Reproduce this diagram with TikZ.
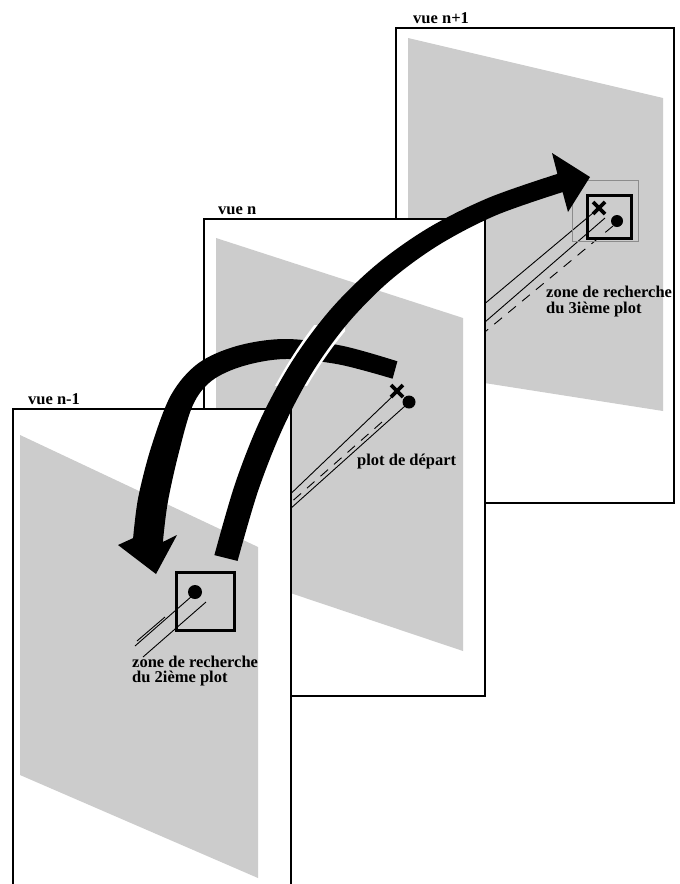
\documentclass[tikz,border=0pt]{standalone}
\usepackage{fontspec}
\setmainfont{Liberation Serif}
\begin{document}
\begin{tikzpicture}[x=1pt,y=-1pt,
  frame/.style={draw=black, line width=1.1pt, fill=white},
  shade/.style={fill=black!20},
  lbl/.style={font=\bfseries\fontsize{16.5}{16}\selectfont, inner sep=0pt, anchor=base west},
  zone/.style={draw=black, line width=3pt},
  faint/.style={draw=black!45, line width=0.6pt},
  trk/.style={draw=black, line width=0.9pt},
  trkd/.style={draw=black, line width=0.9pt, dash pattern=on 10pt off 8pt},
  crossmk/.style={draw=black, line width=3.8pt},
  dotmk/.style={fill=black}
]
\useasboundingbox (0,0) rectangle (680,884);
\fill[white] (0,0) rectangle (680,884);

% ---------------- vue n+1 ----------------
\node[lbl] (t3) at (413,23) {vue n+1};
\draw[frame] (396,28) rectangle (674,503);
\fill[shade] (408,38) -- (663,98) -- (663,411) -- (408,371) -- cycle;
\draw[trk] (593,213) -- (470,316);
\draw[trk] (605,218) -- (470,335);
\draw[trkd] (613,226) -- (480,336);
\draw[faint] (572,180) rectangle (638,241);
\draw[zone] (587,195) rectangle (631,238);
\draw[crossmk] (593,202) -- (605,214) (593,214) -- (605,202);
\fill[dotmk] (617,221) circle (6);
\node[lbl] (z3a) at (546,297) {zone de recherche};
\node[lbl] (z3b) at (546,313) {du 3ième plot};

% ---------------- vue n ----------------
\node[lbl] (t2) at (218,214) {vue n};
\draw[frame] (204,219) rectangle (485,696);
\fill[shade] (216,238) -- (463,318) -- (463,651) -- (216,568) -- cycle;
\draw[trk] (395,394) -- (280,504);
\draw[trk] (405,406) -- (280,518);
\draw[trkd] (382,422) -- (280,512);
\draw[crossmk] (391,385) -- (403,397) (391,397) -- (403,385);
\fill[dotmk] (409,402) circle (6.5);
\node[lbl] (pd) at (357,465) {plot de départ};

% ---------------- vue n-1 ----------------
\node[lbl] (t1) at (28,404) {vue n-1};
\draw[frame] (13,409) rectangle (291,892);
\fill[shade] (20,435) -- (258,547) -- (258,878) -- (20,775) -- cycle;
\draw[trk] (192,596) -- (135,646);
\draw[trk] (165,617) -- (137,641);
\draw[trk] (206,602) -- (143,657);
\draw[zone] (176,572) rectangle (234,630);
\fill[dotmk] (195,592) circle (7);
\node[lbl] (z2a) at (132,667) {zone de recherche};
\node[lbl] (z2b) at (132,682) {du 2ième plot};

% ---------------- arrow from vue n to vue n-1 ----------------
\fill[black] plot[smooth, tension=0.55] coordinates {(397.4,361.3) (341.8,345.7) (285,339) (237.1,345.9) (198.4,363.2) (171.3,394.5) (151.5,446.1) (138.3,497.2) (133.1,538.1)}
  -- (118,545) -- (156,574) -- (177,535) -- (162.9,541.9)
  -- plot[smooth, tension=0.55] coordinates {(162.9,541.9) (167.7,502.8) (178.5,453.9) (192.7,405.5) (211.6,380.8) (242.9,366.1) (285,359) (338.2,364.3) (392.6,378.7)}
  -- cycle;

% white gap where the second arrow crosses the first
\begin{scope}
  \clip (250,325) rectangle (345,385);
  \draw[white, line width=28pt] (226,558) .. controls (276,358) and (368,237) .. (560,183);
\end{scope}

% ---------------- arrow from vue n-1 to vue n+1 ----------------
\fill[black] plot[smooth, tension=0.55] coordinates {(214.4,555.1) (235.4,482.8) (261.3,417.6) (293.3,359.5) (331.4,308.5) (376.3,264.7) (428.7,227.7) (488.8,197.7) (557.4,173.9)}
  -- (552,153) -- (590,177) -- (568,212) -- (562.6,192.1)
  -- plot[smooth, tension=0.55] coordinates {(562.6,192.1) (496.2,215.2) (439.1,244.8) (389.9,280.7) (348.1,322.9) (312.7,371.7) (283.1,427.6) (258.2,490.6) (237.6,560.9)}
  -- cycle;
\end{tikzpicture}
\end{document}
